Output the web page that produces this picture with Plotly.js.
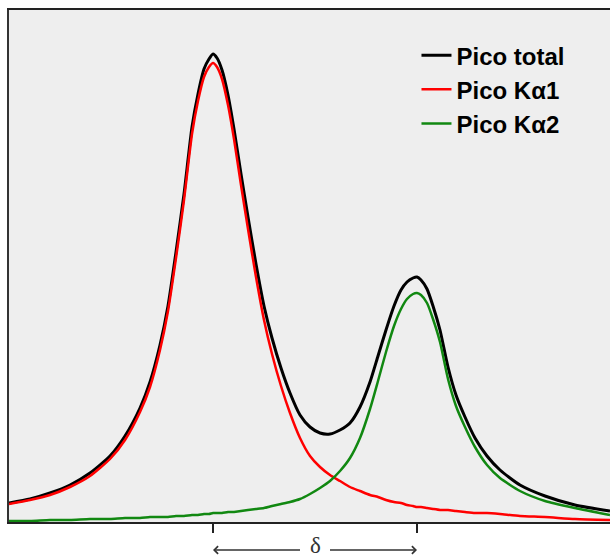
<!DOCTYPE html>
<html>
<head>
<meta charset="utf-8">
<script src="https://cdn.plot.ly/plotly-3.0.1.min.js"></script>
<style>
html,body{margin:0;padding:0;background:#fff;}
#chart{width:610px;height:560px;}
</style>
</head>
<body>
<div id="chart"></div>
<script>
// Sample positions (arbitrary diffraction-angle units)
const xPos = [9, 30, 50, 70, 90, 110, 125, 140, 150, 160, 168, 176, 184, 192, 198, 204, 209, 213, 217, 222, 228, 234, 241, 248, 256, 264, 272, 281, 290, 300, 310, 320, 330, 340, 350, 360, 370, 378, 386, 394, 401, 407, 413, 417, 421, 427, 433, 440, 448, 456, 465, 475, 487, 500, 520, 545, 575, 610];
// Intensities
const picoTotal = [19, 23, 29, 37, 49, 66, 86, 114, 140, 177, 216, 270, 328, 395, 428, 453, 463, 468, 464, 452, 427, 393, 348, 305, 258, 216, 184, 154, 129, 107, 95, 89, 88, 92, 99, 115, 140, 166, 192, 216, 232, 240, 244, 245, 242, 233, 216, 192, 155, 127, 105, 84, 66, 52, 37, 26, 17, 11];
const picoKa1 = [18, 22, 27, 35, 46, 63, 82, 110, 135, 172, 211, 264, 322, 388, 421, 445, 455, 459, 455, 443, 417, 383, 337, 293, 245, 202, 168, 136, 109, 84, 66, 55, 47, 41, 35, 31, 27, 25, 22, 20, 19, 17, 16, 15, 15, 14, 13, 12, 12, 11, 10, 9, 9, 8, 6, 5, 3, 2];
const picoKa2 = [1, 1, 2, 2, 3, 3, 4, 4, 5, 5, 5, 6, 6, 7, 7, 8, 8, 9, 9, 9, 10, 10, 11, 12, 13, 14, 16, 18, 20, 23, 28, 34, 41, 51, 64, 84, 113, 141, 170, 196, 213, 223, 228, 229, 227, 219, 203, 180, 143, 116, 95, 75, 57, 44, 31, 21, 14, 7];
// Peak positions (tick marks) and labels
const peakPositions = [213, 417];
const seriesNames = ["Pico total", "Pico K\u03b11", "Pico K\u03b12"];
const deltaLabel = "\u03b4";

const traces = [
  {x: xPos, y: picoTotal, name: seriesNames[0], type: 'scatter', mode: 'lines',
   line: {color: '#000000', width: 3, shape: 'spline', smoothing: 0.6}},
  {x: xPos, y: picoKa1, name: seriesNames[1], type: 'scatter', mode: 'lines',
   line: {color: '#ff0000', width: 2.5, shape: 'spline', smoothing: 0.6}},
  {x: xPos, y: picoKa2, name: seriesNames[2], type: 'scatter', mode: 'lines',
   line: {color: '#118811', width: 2.5, shape: 'spline', smoothing: 0.6}}
];

const midX = (peakPositions[0] + peakPositions[1]) / 2;

const arrowCommon = {
  y: -0.0547, xref: 'x', yref: 'paper', ax: midX, ay: 0, axref: 'x', ayref: 'pixel',
  text: ' ', showarrow: true, arrowhead: 4, arrowsize: 1, arrowwidth: 1.5, arrowcolor: '#333',
  borderpad: 0, startstandoff: 13,
  font: {size: 10, color: 'rgba(0,0,0,0)'}
};

const layout = {
  width: 610, height: 560,
  margin: {l: 9, r: 0, t: 10, b: 38, pad: 0},
  paper_bgcolor: '#ffffff',
  plot_bgcolor: '#eeeeee',
  showlegend: true,
  legend: {
    x: 0.678, y: 0.955, xanchor: 'left', yanchor: 'top',
    bgcolor: 'rgba(0,0,0,0)', borderwidth: 0,
    font: {family: 'Liberation Sans, Arial, sans-serif', size: 24, color: '#000', weight: 'bold'}
  },
  xaxis: {
    range: [9, 610], showgrid: false, zeroline: false,
    showline: true, linecolor: '#222', linewidth: 2, mirror: true,
    tickvals: peakPositions, ticks: 'outside', ticklen: 9, tickwidth: 1.5, tickcolor: '#222',
    showticklabels: false, fixedrange: true
  },
  yaxis: {
    range: [0, 512], showgrid: false, zeroline: false,
    showline: true, linecolor: '#333', linewidth: 2,
    ticks: '', showticklabels: false, fixedrange: true
  },
  annotations: [
    Object.assign({}, arrowCommon, {x: peakPositions[0]}),
    Object.assign({}, arrowCommon, {x: peakPositions[1]}),
    {x: midX, y: -0.0723, xref: 'x', yref: 'paper', xanchor: 'center', yanchor: 'bottom',
     text: deltaLabel, showarrow: false, borderpad: 0,
     font: {family: 'Liberation Serif, Times New Roman, serif', size: 23, color: '#333'}}
  ]
};

Plotly.newPlot('chart', traces, layout, {displayModeBar: false, staticPlot: true});
</script>
</body>
</html>
